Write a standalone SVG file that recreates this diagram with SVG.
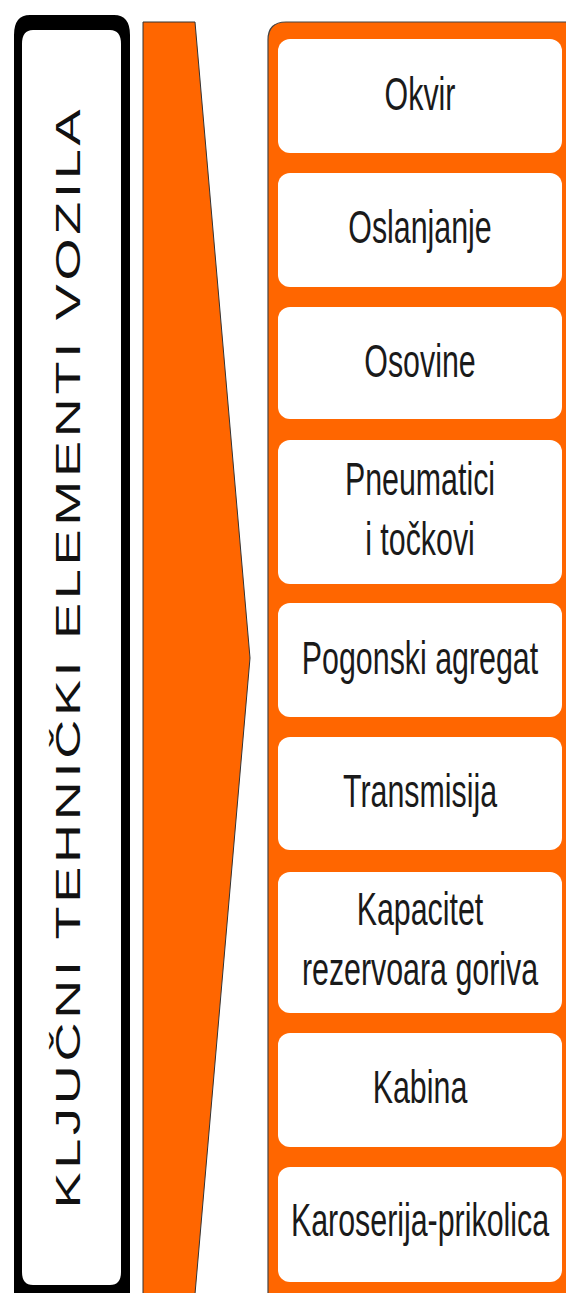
<svg xmlns="http://www.w3.org/2000/svg" width="566" height="1293" viewBox="0 0 566 1293">
<style>
.lbl{font-family:"Liberation Sans",Arial,sans-serif;font-size:46px;fill:#1a1a1a;text-anchor:middle}
.box{fill:#ffffff}
.title{font-family:"Liberation Sans",Arial,sans-serif;font-size:54px;fill:#111111;text-anchor:middle}
</style>
<rect width="566" height="1293" fill="#ffffff"/>
<g id="title-box">
<path fill="#000000" fill-rule="evenodd" d="M30,15 H114 Q130,15 130,35 V1300 H14 V35 Q14,15 30,15 Z M33,30 H110 Q121,30 121,44 V1272 Q121,1285 110,1285 H33 Q22,1285 22,1272 V44 Q22,30 33,30 Z"/>
<text class="title" transform="translate(80,659) scale(0.65,1) rotate(-90)" textLength="1099" lengthAdjust="spacing">KLJUČNI TEHNIČKI ELEMENTI VOZILA</text>
</g>
<g id="arrow">
<polygon points="143,22 195,22 250,658 195,1294 143,1294" fill="#ff6600" stroke="#333333" stroke-width="1"/>
</g>
<g id="container">
<path d="M268,1300 V40 Q268,22 286,22 H570 V1300 Z" fill="#ff6600" stroke="#444444" stroke-width="1.2"/>
</g>
<g id="node-okvir">
<rect class="box" x="278" y="39" width="284" height="114" rx="12"/>
<text class="lbl" transform="translate(420,110) scale(0.66,1)">Okvir</text>
</g>
<g id="node-oslanjanje">
<rect class="box" x="278" y="173" width="284" height="114" rx="12"/>
<text class="lbl" transform="translate(420,243) scale(0.66,1)">Oslanjanje</text>
</g>
<g id="node-osovine">
<rect class="box" x="278" y="307" width="284" height="112" rx="12"/>
<text class="lbl" transform="translate(420,377) scale(0.66,1)">Osovine</text>
</g>
<g id="node-pneumatici">
<rect class="box" x="278" y="440" width="284" height="144" rx="12"/>
<text class="lbl" transform="translate(420,495) scale(0.66,1)">Pneumatici</text>
<text class="lbl" transform="translate(420,555) scale(0.66,1)">i točkovi</text>
</g>
<g id="node-pogonski">
<rect class="box" x="278" y="603" width="284" height="114" rx="12"/>
<text class="lbl" transform="translate(420,674) scale(0.66,1)">Pogonski agregat</text>
</g>
<g id="node-transmisija">
<rect class="box" x="278" y="737" width="284" height="113" rx="12"/>
<text class="lbl" transform="translate(420,807) scale(0.66,1)">Transmisija</text>
</g>
<g id="node-kapacitet">
<rect class="box" x="278" y="872" width="284" height="141" rx="12"/>
<text class="lbl" transform="translate(420,925) scale(0.66,1)">Kapacitet</text>
<text class="lbl" transform="translate(420,985) scale(0.66,1)">rezervoara goriva</text>
</g>
<g id="node-kabina">
<rect class="box" x="278" y="1033" width="284" height="114" rx="12"/>
<text class="lbl" transform="translate(420,1103) scale(0.66,1)">Kabina</text>
</g>
<g id="node-karoserija">
<rect class="box" x="278" y="1167" width="284" height="115" rx="12"/>
<text class="lbl" transform="translate(420,1236) scale(0.66,1)">Karoserija-prikolica</text>
</g>
<g id="connectors"></g>
</svg>
